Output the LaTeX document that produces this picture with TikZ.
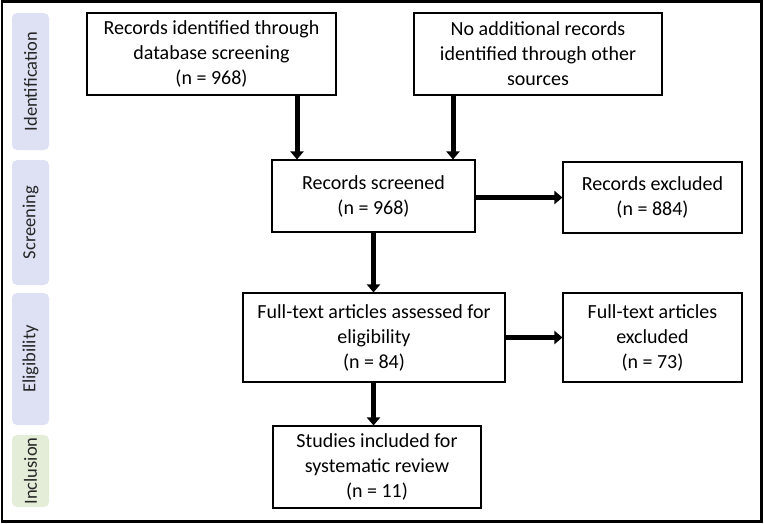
\documentclass[tikz,border=0pt]{standalone}
\usepackage{fontspec}
\setmainfont{Carlito}
\usetikzlibrary{calc,arrows.meta}
\definecolor{lav}{HTML}{DDE1F3}
\definecolor{mint}{HTML}{E3EDD8}

\begin{document}
\begin{tikzpicture}[x=1pt, y=-1pt,
    box/.style={draw=black, line width=1.1pt, align=center, inner sep=0pt, font=\fontsize{20}{25}\selectfont},
    phase/.style={rounded corners=5pt, fill=lav, rotate=90, minimum height=37pt, inner sep=0pt, text=black!85, font=\fontsize{18.5}{20}\selectfont},
    arr/.style={line width=5pt, -{Triangle[length=8pt, width=13pt]}}]
    \useasboundingbox (0,0) rectangle (764,523);
    \draw[line width=2.5pt] (2,1.5) rectangle (761.5,521.5);
    
    \node[phase, minimum width=137pt] (iden) at (30.5,81.5) {Identification};
    
    \node[phase, minimum width=125pt] (scrn) at (30.5,222.5) {Screening};
    
    \node[phase, minimum width=132pt] (elig) at (30.5,359) {Eligibility};
    
    \node[phase, minimum width=72pt, fill=mint] (incl) at (30.5,471) {Inclusion};
    
    \node[box, minimum width=249pt, minimum height=82pt] (db) at (211.5,54) {Records identified through\\database screening\\(n = 968)};
    
    \node[box, minimum width=248pt, minimum height=82pt] (other) at ($(db) + (326.5,0)$) {No additional records\\identified through other\\sources};
    
    \node[box, minimum width=203pt, minimum height=72pt] (screened) at ($(db) + (162,142)$) {Records screened\\(n = 968)};
    
    \node[box, minimum width=179pt, minimum height=71pt] (excl) at ($(screened) + (279,1.5)$) {Records excluded\\(n = 884)};
    
    \node[box, minimum width=262pt, minimum height=89pt] (full) at ($(screened) + (0.5,141.5)$) {Full-text articles assessed for\\eligibility\\(n = 84)};
    
    \node[box, minimum width=179pt, minimum height=89pt] (fullexcl) at ($(full) + (278.5,0)$) {Full-text articles\\excluded\\(n = 73)};
    
    \node[box, minimum width=208pt, minimum height=82pt] (incd) at ($(full) + (3,129.5)$) {Studies included for\\systematic review\\(n = 11)};
    
    
    
    \draw[arr] ([xshift=-76.5pt]screened.north |- db.south) -- ([xshift=-76.5pt]screened.north);
    \draw[arr] ([xshift=79.5pt]screened.north |- other.south) -- ([xshift=79.5pt]screened.north);
    \draw[arr] (screened.east |- excl.west) -- (excl.west);
    \draw[arr] (screened.south) -- (screened.south |- full.north);
    \draw[arr] (full.east) -- (fullexcl.west);
    \draw[arr] (screened.south |- full.south) -- (screened.south |- incd.north);
    
\end{tikzpicture}
\end{document}
